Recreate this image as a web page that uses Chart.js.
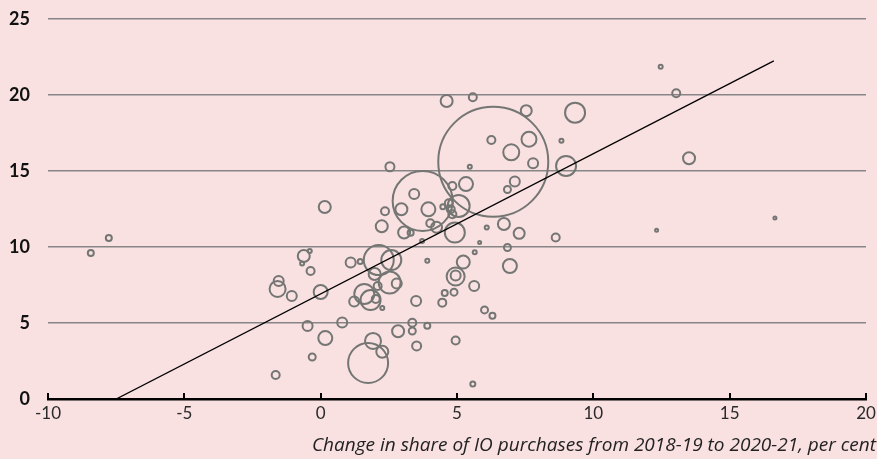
<!DOCTYPE html>
<html lang="en">
<head>
  <meta charset="UTF-8">
  <title>IO purchases scatter</title>
  <script src="https://cdn.jsdelivr.net/npm/chart.js"></script>
  <style>
    body {
      margin: 0;
      padding: 0;
      background: #f9e0e1;
    }
    #wrap {
      width: 877px;
      height: 459px;
    }
  </style>
</head>
<body>
  <div id="wrap">
    <canvas id="scatter" width="877" height="459"></canvas>
  </div>

  <script>
    // Industry bubbles: change in IO share (x), y value, bubble radius
    const bubbleX = [
      -8.43, -7.77, -1.58, -1.54, -1.06, -1.65, -0.62, -0.40, -0.68, -0.37,
       0.00, -0.48,  0.17,  0.79, -0.31,  0.15,  1.10,  1.45,  2.13,  2.59,
       1.98,  2.53,  2.79,  2.09,  1.60,  1.83,  1.23,  2.02,  2.26,  3.50,
       3.91,  5.23,  4.95,  4.95,  5.63,  5.65,  6.94,  6.85,  4.55,  4.89,
       4.46,  6.01,  6.30,  3.36,  3.36,  3.91,  3.52,  4.95,  5.58,  1.74,
       1.92,  2.26,  2.84,  4.62,  5.58,  7.54,  9.33,  6.33,  6.26,  7.64,
       6.99,  7.79,  8.83,  9.00,  5.47,  2.54,  3.74,  3.43,  2.96,  3.95,
       2.36,  2.24,  3.06,  3.30,  4.02,  4.25,  3.72,  4.83,  5.33,  5.06,
       4.48,  4.70,  4.77,  4.83,  4.92,  6.09,  6.72,  7.28,  8.62,  7.12,
       6.85,  5.83, 12.47, 13.04, 13.51, 12.32, 16.66
    ];
    const bubbleY = [
       9.61, 10.59,  7.24,  7.76,  6.78,  1.58,  9.41,  9.74,  8.91,  8.42,
       7.04,  4.80,  4.01,  5.03,  2.76, 12.63,  8.98,  9.05,  9.14,  9.14,
       8.22,  7.66,  7.60,  7.43,  6.91,  6.51,  6.41,  6.58,  5.99,  6.45,
       9.09,  9.01,  8.06,  8.13,  7.43,  9.65,  8.75,  9.97,  6.97,  7.03,
       6.34,  5.86,  5.48,  5.02,  4.47,  4.82,  3.49,  3.85,  0.99,  2.37,
       3.82,  3.11,  4.46, 19.61, 19.85, 18.97, 18.84, 15.61, 17.04, 17.09,
      16.23, 15.51, 16.99, 15.33, 15.28, 15.28, 13.03, 13.49, 12.48, 12.48,
      12.35, 11.36, 10.95, 10.94, 11.56, 11.30, 10.39, 14.01, 14.14, 12.70,
      12.65, 12.88, 12.48, 12.15, 10.95, 11.28, 11.51, 10.90, 10.63, 14.31,
      13.78, 10.30, 21.86, 20.11, 15.84, 11.10, 11.91
    ];
    const bubbleSize = [
      3, 3, 8, 5, 5, 4, 6, 2, 2, 4,
      7, 5, 7, 5, 3.5, 6, 5, 2.5, 15, 10,
      6, 11, 5, 4, 10, 10, 5, 4, 2, 5,
      2, 6.5, 9, 5, 5, 2, 7, 3.5, 3, 3.5,
      4, 3.5, 3, 4, 3.5, 3, 4.5, 4, 2.5, 20,
      8, 6, 6, 6, 4, 5.5, 10, 55, 4, 7.5,
      8, 5, 2, 10, 2, 4.5, 30, 5, 6, 7,
      4, 6, 6, 3, 4, 5.5, 2, 4, 7, 11,
      2.5, 4, 4, 4, 10, 2, 6, 5.5, 4, 5,
      3.5, 1.5, 2, 4, 6, 1.5, 1.5
    ];

    // Fitted line end points
    const trendX = [-7.5, 16.62];
    const trendY = [0, 22.24];

    const xTicks = [-10, -5, 0, 5, 10, 15, 20];
    const yTicks = [0, 5, 10, 15, 20, 25];
    const xTitle = 'Change in share of IO purchases from 2018-19 to 2020-21, per cent';

    const bubbles = bubbleX.map((x, i) => ({ x: x, y: bubbleY[i], r: bubbleSize[i] }));
    const trend = trendX.map((x, i) => ({ x: x, y: trendY[i] }));

    // Tick marks pointing up from the x axis, plus the axis title
    const axisExtras = {
      id: 'axisExtras',
      afterDraw(chart) {
        const ctx = chart.ctx;
        const xs = chart.scales.x;
        const bottom = chart.chartArea.bottom;
        ctx.save();
        ctx.strokeStyle = '#000';
        ctx.lineWidth = 2;
        xTicks.forEach(v => {
          const px = Math.round(xs.getPixelForValue(v));
          ctx.beginPath();
          ctx.moveTo(px, bottom);
          ctx.lineTo(px, bottom - 6);
          ctx.stroke();
        });
        ctx.fillStyle = '#222';
        ctx.font = 'italic 19px "Open Sans", Lato, sans-serif';
        ctx.textAlign = 'right';
        ctx.textBaseline = 'middle';
        ctx.fillText(xTitle, chart.width - 1, 446);
        ctx.restore();
      }
    };

    new Chart(document.getElementById('scatter'), {
      type: 'bubble',
      data: {
        datasets: [
          {
            type: 'line',
            data: trend,
            borderColor: '#000',
            borderWidth: 1.3,
            pointRadius: 0,
            fill: false
          },
          {
            data: bubbles,
            backgroundColor: 'rgba(0,0,0,0)',
            borderColor: '#747674',
            borderWidth: 2,
            hoverRadius: 0
          }
        ]
      },
      options: {
        responsive: false,
        animation: false,
        events: [],
        layout: { autoPadding: false, padding: { left: 0, right: 11, top: 19, bottom: 0 } },
        plugins: {
          legend: { display: false },
          tooltip: { enabled: false }
        },
        scales: {
          x: {
            type: 'linear',
            min: -10,
            max: 20,
            afterBuildTicks: s => { s.ticks = xTicks.map(v => ({ value: v })); },
            afterFit: s => { s.height = 60; },
            border: { display: true, color: '#000', width: 2.5 },
            // invisible tick marks give the label gap without extra edge padding
            grid: { display: true, drawOnChartArea: false, drawTicks: true, tickLength: 4, tickColor: 'rgba(0,0,0,0)' },
            ticks: {
              padding: 0,
              color: '#2a2a2a',
              font: { family: 'Lato, "Open Sans", sans-serif', size: 17 }
            }
          },
          y: {
            min: 0,
            max: 25,
            afterBuildTicks: s => { s.ticks = yTicks.map(v => ({ value: v })); },
            afterFit: s => { s.width = 48; },
            border: { display: false },
            grid: {
              drawTicks: true,
              tickLength: 18,
              tickColor: 'rgba(0,0,0,0)',
              color: c => c.tick.value === 0 ? 'rgba(0,0,0,0)' : '#858685',
              lineWidth: 1.5
            },
            ticks: {
              padding: 0,
              color: '#111',
              font: { family: 'Lato, "Open Sans", sans-serif', size: 18, weight: 'bold' }
            }
          }
        }
      },
      plugins: [axisExtras]
    });
  </script>
</body>
</html>
